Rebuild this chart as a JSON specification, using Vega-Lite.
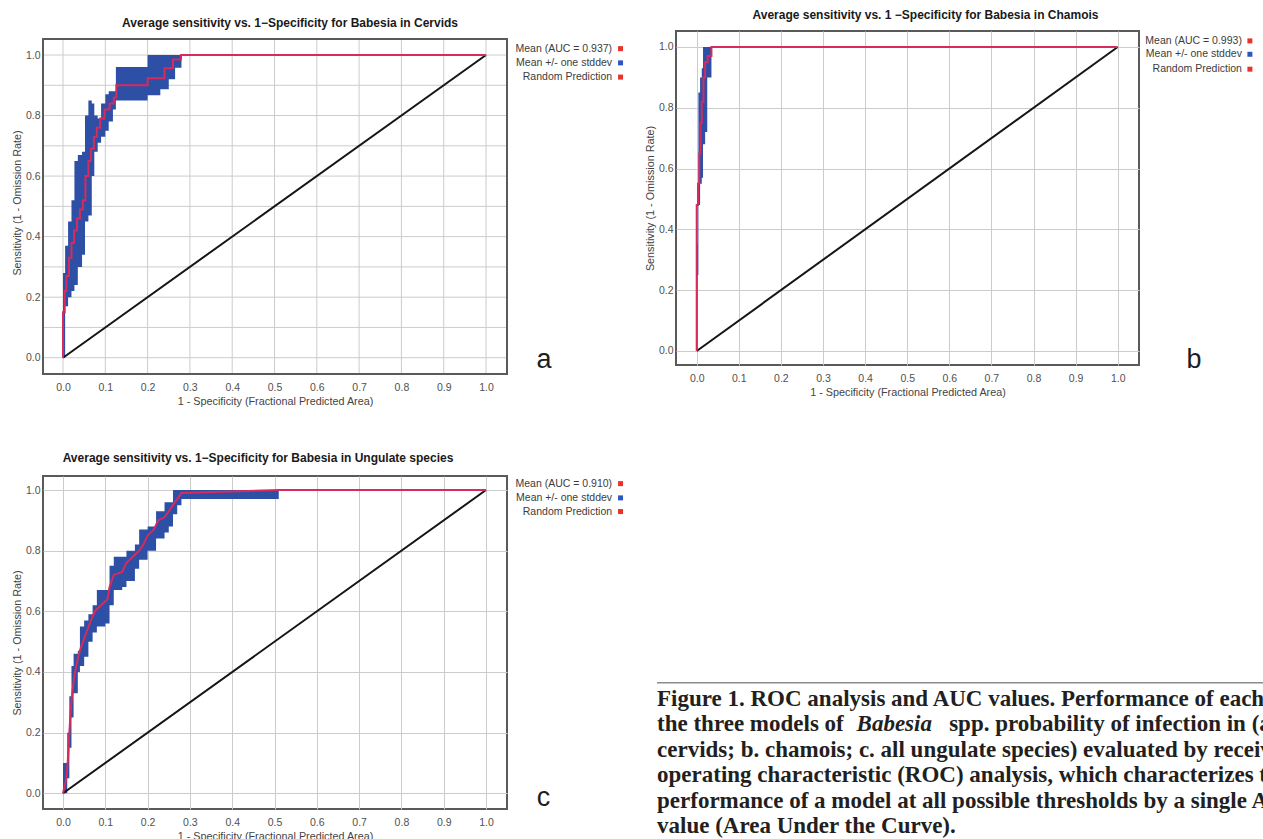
{
  "$schema": "https://vega.github.io/schema/vega-lite/v6.json",
  "background": "white",
  "padding": {"left": 10, "top": 8, "right": 0, "bottom": 0},
  "config": {
    "font": "Liberation Sans",
    "view": {"stroke": "#5a5a5a", "strokeWidth": 2},
    "axis": {
      "grid": true, "gridColor": "#cccccc", "gridWidth": 1,
      "domain": false, "ticks": false,
      "labelFont": "Liberation Sans", "labelFontSize": 10.5, "labelColor": "#505050",
      "labelFlush": false, "labelOverlap": false,
      "titleFont": "Liberation Sans", "titleFontSize": 10.8, "titleFontWeight": "normal", "titleColor": "#444444"
    },
    "axisX": {"labelPadding": 8, "titlePadding": 3},
    "axisY": {"labelPadding": 3, "titlePadding": 2.5},
    "title": {"font": "Liberation Sans", "fontSize": 12, "fontWeight": "bold", "color": "#1a1a1a", "anchor": "middle", "frame": "group", "baseline": "middle"},
    "text": {"font": "Liberation Sans", "fontSize": 10.5, "color": "#3c3c3c", "align": "right", "baseline": "middle"}
  },
  "datasets": {
    "diag": [{"x": 0, "y": 0}, {"x": 1, "y": 1}],
    "grid": [{"v": 0}, {"v": 0.1}, {"v": 0.2}, {"v": 0.3}, {"v": 0.4}, {"v": 0.5}, {"v": 0.6}, {"v": 0.7}, {"v": 0.8}, {"v": 0.9}, {"v": 1}],
    "a_band": [{"x":0,"hi":0.28,"lo":0},{"x":0.005,"hi":0.37,"lo":0.17},{"x":0.012,"hi":0.45,"lo":0.2},{"x":0.02,"hi":0.52,"lo":0.22},{"x":0.027,"hi":0.65,"lo":0.24},{"x":0.035,"hi":0.67,"lo":0.3},{"x":0.045,"hi":0.68,"lo":0.34},{"x":0.052,"hi":0.8,"lo":0.45},{"x":0.06,"hi":0.85,"lo":0.47},{"x":0.068,"hi":0.84,"lo":0.6},{"x":0.074,"hi":0.8,"lo":0.68},{"x":0.082,"hi":0.79,"lo":0.71},{"x":0.09,"hi":0.84,"lo":0.73},{"x":0.1,"hi":0.87,"lo":0.75},{"x":0.108,"hi":0.88,"lo":0.78},{"x":0.118,"hi":0.88,"lo":0.82},{"x":0.125,"hi":0.96,"lo":0.85},{"x":0.2,"hi":1.0,"lo":0.867},{"x":0.23,"hi":1.0,"lo":0.887},{"x":0.25,"hi":1.0,"lo":0.92},{"x":0.265,"hi":1.0,"lo":0.958},{"x":0.28,"hi":1.0,"lo":1.0},{"x":1.0,"hi":1.0,"lo":1.0}],
    "a_mean": [{"x":0,"y":0},{"x":0,"y":0.15},{"x":0.004,"y":0.22},{"x":0.008,"y":0.27},{"x":0.014,"y":0.33},{"x":0.02,"y":0.38},{"x":0.026,"y":0.42},{"x":0.033,"y":0.46},{"x":0.04,"y":0.49},{"x":0.047,"y":0.52},{"x":0.053,"y":0.6},{"x":0.06,"y":0.65},{"x":0.066,"y":0.69},{"x":0.073,"y":0.73},{"x":0.08,"y":0.76},{"x":0.088,"y":0.79},{"x":0.098,"y":0.82},{"x":0.11,"y":0.84},{"x":0.12,"y":0.86},{"x":0.126,"y":0.9},{"x":0.2,"y":0.923},{"x":0.24,"y":0.956},{"x":0.26,"y":0.985},{"x":0.279,"y":1.0},{"x":1.0,"y":1.0}],
    "b_band": [{"x":0,"hi":0.35,"lo":0},{"x":0.002,"hi":0.5,"lo":0.25},{"x":0.004,"hi":0.85,"lo":0.48},{"x":0.008,"hi":0.9,"lo":0.55},{"x":0.012,"hi":0.93,"lo":0.57},{"x":0.015,"hi":1.0,"lo":0.68},{"x":0.02,"hi":1.0,"lo":0.72},{"x":0.025,"hi":1.0,"lo":0.9},{"x":0.035,"hi":1.0,"lo":1.0},{"x":1.0,"hi":1.0,"lo":1.0}],
    "b_mean": [{"x":0,"y":0},{"x":0,"y":0.48},{"x":0.003,"y":0.55},{"x":0.006,"y":0.65},{"x":0.009,"y":0.75},{"x":0.012,"y":0.82},{"x":0.016,"y":0.9},{"x":0.02,"y":0.95},{"x":0.026,"y":0.97},{"x":0.035,"y":1.0},{"x":1.0,"y":1.0}],
    "c_band": [{"x":0,"hi":0.1,"lo":0},{"x":0.01,"hi":0.2,"lo":0.05},{"x":0.015,"hi":0.32,"lo":0.15},{"x":0.02,"hi":0.42,"lo":0.25},{"x":0.025,"hi":0.46,"lo":0.33},{"x":0.035,"hi":0.47,"lo":0.4},{"x":0.04,"hi":0.55,"lo":0.42},{"x":0.05,"hi":0.57,"lo":0.45},{"x":0.06,"hi":0.59,"lo":0.5},{"x":0.07,"hi":0.62,"lo":0.53},{"x":0.08,"hi":0.67,"lo":0.55},{"x":0.1,"hi":0.67,"lo":0.56},{"x":0.11,"hi":0.75,"lo":0.62},{"x":0.12,"hi":0.78,"lo":0.67},{"x":0.14,"hi":0.78,"lo":0.68},{"x":0.15,"hi":0.8,"lo":0.7},{"x":0.17,"hi":0.82,"lo":0.74},{"x":0.18,"hi":0.87,"lo":0.77},{"x":0.2,"hi":0.88,"lo":0.8},{"x":0.22,"hi":0.93,"lo":0.84},{"x":0.24,"hi":0.96,"lo":0.86},{"x":0.25,"hi":0.96,"lo":0.88},{"x":0.26,"hi":1.0,"lo":0.92},{"x":0.27,"hi":1.0,"lo":0.95},{"x":0.28,"hi":1.0,"lo":0.97},{"x":0.51,"hi":1.0,"lo":1.0},{"x":1.0,"hi":1.0,"lo":1.0}],
    "c_mean": [{"x":0,"y":0},{"x":0.008,"y":0.05},{"x":0.012,"y":0.12},{"x":0.015,"y":0.2},{"x":0.018,"y":0.27},{"x":0.022,"y":0.33},{"x":0.026,"y":0.38},{"x":0.03,"y":0.41},{"x":0.036,"y":0.45},{"x":0.042,"y":0.48},{"x":0.05,"y":0.51},{"x":0.058,"y":0.54},{"x":0.066,"y":0.57},{"x":0.075,"y":0.6},{"x":0.09,"y":0.62},{"x":0.105,"y":0.64},{"x":0.11,"y":0.68},{"x":0.12,"y":0.72},{"x":0.14,"y":0.73},{"x":0.15,"y":0.76},{"x":0.165,"y":0.78},{"x":0.18,"y":0.8},{"x":0.19,"y":0.82},{"x":0.2,"y":0.85},{"x":0.215,"y":0.87},{"x":0.225,"y":0.9},{"x":0.24,"y":0.91},{"x":0.25,"y":0.93},{"x":0.26,"y":0.95},{"x":0.27,"y":0.97},{"x":0.28,"y":0.99},{"x":0.51,"y":1.0},{"x":1.0,"y":1.0}],
    "caption": [
      {"line": 1, "text": "Figure 1. ROC analysis and AUC values. Performance of each of"},
      {"line": 3, "text": "cervids; b. chamois; c. all ungulate species) evaluated by receiver"},
      {"line": 4, "text": "operating characteristic (ROC) analysis, which characterizes the"},
      {"line": 5, "text": "performance of a model at all possible thresholds by a single AUC"},
      {"line": 6, "text": "value (Area Under the Curve)."}
    ]
  },
  "bounds": "flush",
  "align": "each",
  "columns": 2,
  "spacing": {"row": 102, "column": 169},
  "concat": [
    {
      "width": 464, "height": 343,
      "view": {"stroke": null},
      "title": {"text": "Average sensitivity vs. 1\u2212Specificity for Babesia in Cervids", "offset": 1, "dx": 15},
      "layer": [
        {"data": {"name": "grid"}, "mark": {"type": "rule", "color": "#cccccc", "strokeWidth": 1},
         "encoding": {
           "x": {"field": "v", "type": "quantitative", "scale": {"domain": [-0.0473, 1.0496], "nice": false, "zero": false},
                 "axis": {"title": "1 - Specificity (Fractional Predicted Area)", "values": [0,0.1,0.2,0.3,0.4,0.5,0.6,0.7,0.8,0.9,1], "format": ".1f", "grid": false}},
           "y": {"datum": -0.0538, "type": "quantitative", "scale": {"domain": [-0.0538, 1.0793], "nice": false, "zero": false},
                 "axis": {"title": "Sensitivity (1 - Omission Rate)", "values": [0,0.1,0.2,0.3,0.4,0.5,0.6,0.7,0.8,0.9,1], "format": ".1f", "grid": false}},
           "y2": {"datum": 1.0529}
         }},
        {"data": {"name": "grid"}, "mark": {"type": "rule", "color": "#cccccc", "strokeWidth": 1},
         "encoding": {
           "y": {"field": "v", "type": "quantitative"},
           "x": {"datum": -0.0473, "type": "quantitative"},
           "x2": {"datum": 1.0496}
         }},
        {"data": {"name": "a_band"}, "mark": {"type": "area", "interpolate": "step-after", "color": "#2d4fa6", "opacity": 1},
         "encoding": {"x": {"field": "x", "type": "quantitative"}, "y": {"field": "hi", "type": "quantitative"}, "y2": {"field": "lo"}}},
        {"data": {"name": "diag"}, "mark": {"type": "line", "color": "#151515", "strokeWidth": 2},
         "encoding": {"x": {"field": "x", "type": "quantitative"}, "y": {"field": "y", "type": "quantitative"}}},
        {"data": {"name": "a_mean"}, "mark": {"type": "line", "interpolate": "step-after", "color": "#d62b5c", "strokeWidth": 2},
         "encoding": {"x": {"field": "x", "type": "quantitative"}, "y": {"field": "y", "type": "quantitative"}}},
        {"data": {"values": [{}]}, "mark": {"type": "rect", "fill": null, "fillOpacity": 0, "stroke": "#5a5a5a", "strokeWidth": 2},
         "encoding": {"x": {"datum": -0.0473, "type": "quantitative"}, "x2": {"datum": 1.0496}, "y": {"datum": -0.0538, "type": "quantitative"}, "y2": {"datum": 1.0529}}},
        {"data": {"values": [{}]}, "mark": {"type": "text", "text": "Mean (AUC = 0.937)"},
         "encoding": {"x": {"datum": 1.298, "type": "quantitative"}, "y": {"datum": 1.021, "type": "quantitative"}}},
        {"data": {"values": [{}]}, "mark": {"type": "text", "text": "Mean +/- one stddev"},
         "encoding": {"x": {"datum": 1.298, "type": "quantitative"}, "y": {"datum": 0.974, "type": "quantitative"}}},
        {"data": {"values": [{}]}, "mark": {"type": "text", "text": "Random Prediction"},
         "encoding": {"x": {"datum": 1.298, "type": "quantitative"}, "y": {"datum": 0.927, "type": "quantitative"}}},
        {"data": {"values": [{}]}, "mark": {"type": "square", "size": 25, "color": "#e8332c", "opacity": 1},
         "encoding": {"x": {"datum": 1.318, "type": "quantitative"}, "y": {"datum": 1.021, "type": "quantitative"}}},
        {"data": {"values": [{}]}, "mark": {"type": "square", "size": 25, "color": "#2e55c0", "opacity": 1},
         "encoding": {"x": {"datum": 1.318, "type": "quantitative"}, "y": {"datum": 0.974, "type": "quantitative"}}},
        {"data": {"values": [{}]}, "mark": {"type": "square", "size": 25, "color": "#e8332c", "opacity": 1},
         "encoding": {"x": {"datum": 1.318, "type": "quantitative"}, "y": {"datum": 0.927, "type": "quantitative"}}},
        {"data": {"values": [{}]}, "mark": {"type": "text", "text": "a", "fontSize": 27, "align": "center", "baseline": "alphabetic", "color": "#1e1e1e"},
         "encoding": {"x": {"datum": 1.137, "type": "quantitative"}, "y": {"datum": -0.034, "type": "quantitative"}}}
      ]
    },
    {
      "width": 463, "height": 334,
      "title": {"text": "Average sensitivity vs. 1 \u2212Specificity for Babesia in Chamois", "offset": 8.7, "dx": 18},
      "layer": [
        {"data": {"name": "b_band"}, "mark": {"type": "area", "interpolate": "step-after", "color": "#2d4fa6", "opacity": 1},
         "encoding": {
           "x": {"field": "x", "type": "quantitative", "scale": {"domain": [-0.0492, 1.0506], "nice": false, "zero": false},
                 "axis": {"title": "1 - Specificity (Fractional Predicted Area)", "values": [0,0.1,0.2,0.3,0.4,0.5,0.6,0.7,0.8,0.9,1], "format": ".1f"}},
           "y": {"field": "hi", "type": "quantitative", "scale": {"domain": [-0.0461, 1.0526], "nice": false, "zero": false},
                 "axis": {"title": "Sensitivity (1 - Omission Rate)", "values": [0,0.1,0.2,0.3,0.4,0.5,0.6,0.7,0.8,0.9,1], "format": ".1f"}},
           "y2": {"field": "lo"}
         }},
        {"data": {"name": "diag"}, "mark": {"type": "line", "color": "#151515", "strokeWidth": 2},
         "encoding": {"x": {"field": "x", "type": "quantitative"}, "y": {"field": "y", "type": "quantitative"}}},
        {"data": {"name": "b_mean"}, "mark": {"type": "line", "interpolate": "step-after", "color": "#d62b5c", "strokeWidth": 2},
         "encoding": {"x": {"field": "x", "type": "quantitative"}, "y": {"field": "y", "type": "quantitative"}}},
        {"data": {"values": [{}]}, "mark": {"type": "text", "text": "Mean (AUC = 0.993)"},
         "encoding": {"x": {"datum": 1.295, "type": "quantitative"}, "y": {"datum": 1.020, "type": "quantitative"}}},
        {"data": {"values": [{}]}, "mark": {"type": "text", "text": "Mean +/- one stddev"},
         "encoding": {"x": {"datum": 1.295, "type": "quantitative"}, "y": {"datum": 0.976, "type": "quantitative"}}},
        {"data": {"values": [{}]}, "mark": {"type": "text", "text": "Random Prediction"},
         "encoding": {"x": {"datum": 1.295, "type": "quantitative"}, "y": {"datum": 0.927, "type": "quantitative"}}},
        {"data": {"values": [{}]}, "mark": {"type": "square", "size": 25, "color": "#e8332c", "opacity": 1},
         "encoding": {"x": {"datum": 1.314, "type": "quantitative"}, "y": {"datum": 1.020, "type": "quantitative"}}},
        {"data": {"values": [{}]}, "mark": {"type": "square", "size": 25, "color": "#2e55c0", "opacity": 1},
         "encoding": {"x": {"datum": 1.314, "type": "quantitative"}, "y": {"datum": 0.976, "type": "quantitative"}}},
        {"data": {"values": [{}]}, "mark": {"type": "square", "size": 25, "color": "#e8332c", "opacity": 1},
         "encoding": {"x": {"datum": 1.314, "type": "quantitative"}, "y": {"datum": 0.927, "type": "quantitative"}}},
        {"data": {"values": [{}]}, "mark": {"type": "text", "text": "b", "fontSize": 27, "align": "center", "baseline": "alphabetic", "color": "#1e1e1e"},
         "encoding": {"x": {"datum": 1.181, "type": "quantitative"}, "y": {"datum": -0.055, "type": "quantitative"}}}
      ]
    },
    {
      "width": 464, "height": 333,
      "title": {"text": "Average sensitivity vs. 1\u2212Specificity for Babesia in Ungulate species", "offset": 11, "dx": -17},
      "layer": [
        {"data": {"name": "c_band"}, "mark": {"type": "area", "interpolate": "step-after", "color": "#2d4fa6", "opacity": 1},
         "encoding": {
           "x": {"field": "x", "type": "quantitative", "scale": {"domain": [-0.0473, 1.0496], "nice": false, "zero": false},
                 "axis": {"title": "1 - Specificity (Fractional Predicted Area)", "values": [0,0.1,0.2,0.3,0.4,0.5,0.6,0.7,0.8,0.9,1], "format": ".1f"}},
           "y": {"field": "hi", "type": "quantitative", "scale": {"domain": [-0.0518, 1.0462], "nice": false, "zero": false},
                 "axis": {"title": "Sensitivity (1 - Omission Rate)", "values": [0,0.1,0.2,0.3,0.4,0.5,0.6,0.7,0.8,0.9,1], "format": ".1f"}},
           "y2": {"field": "lo"}
         }},
        {"data": {"name": "diag"}, "mark": {"type": "line", "color": "#151515", "strokeWidth": 2},
         "encoding": {"x": {"field": "x", "type": "quantitative"}, "y": {"field": "y", "type": "quantitative"}}},
        {"data": {"name": "c_mean"}, "mark": {"type": "line", "color": "#d62b5c", "strokeWidth": 2},
         "encoding": {"x": {"field": "x", "type": "quantitative"}, "y": {"field": "y", "type": "quantitative"}}},
        {"data": {"values": [{}]}, "mark": {"type": "text", "text": "Mean (AUC = 0.910)"},
         "encoding": {"x": {"datum": 1.298, "type": "quantitative"}, "y": {"datum": 1.021, "type": "quantitative"}}},
        {"data": {"values": [{}]}, "mark": {"type": "text", "text": "Mean +/- one stddev"},
         "encoding": {"x": {"datum": 1.298, "type": "quantitative"}, "y": {"datum": 0.974, "type": "quantitative"}}},
        {"data": {"values": [{}]}, "mark": {"type": "text", "text": "Random Prediction"},
         "encoding": {"x": {"datum": 1.298, "type": "quantitative"}, "y": {"datum": 0.929, "type": "quantitative"}}},
        {"data": {"values": [{}]}, "mark": {"type": "square", "size": 25, "color": "#e8332c", "opacity": 1},
         "encoding": {"x": {"datum": 1.318, "type": "quantitative"}, "y": {"datum": 1.021, "type": "quantitative"}}},
        {"data": {"values": [{}]}, "mark": {"type": "square", "size": 25, "color": "#2e55c0", "opacity": 1},
         "encoding": {"x": {"datum": 1.318, "type": "quantitative"}, "y": {"datum": 0.974, "type": "quantitative"}}},
        {"data": {"values": [{}]}, "mark": {"type": "square", "size": 25, "color": "#e8332c", "opacity": 1},
         "encoding": {"x": {"datum": 1.318, "type": "quantitative"}, "y": {"datum": 0.929, "type": "quantitative"}}},
        {"data": {"values": [{}]}, "mark": {"type": "text", "text": "c", "fontSize": 27, "align": "center", "baseline": "alphabetic", "color": "#1e1e1e"},
         "encoding": {"x": {"datum": 1.136, "type": "quantitative"}, "y": {"datum": -0.042, "type": "quantitative"}}}
      ]
    },
    {
      "width": 463, "height": 360,
      "view": {"stroke": null},
      "layer": [
        {"data": {"values": [{}]}, "mark": {"type": "rule", "color": "#8c8c8c", "strokeWidth": 1.6},
         "encoding": {
           "x": {"datum": -0.041, "type": "quantitative", "scale": {"domain": [0, 1], "nice": false, "zero": false}, "axis": null},
           "x2": {"datum": 1.3},
           "y": {"datum": 0.083, "type": "quantitative", "scale": {"domain": [-8.055, 6.118], "reverse": true, "nice": false, "zero": false}, "axis": null}
         }},
        {"data": {"name": "caption"}, "mark": {"type": "text", "align": "left", "baseline": "alphabetic", "font": "Liberation Serif", "fontSize": 23, "fontWeight": "bold", "color": "#231f20"},
         "encoding": {"x": {"datum": -0.041, "type": "quantitative"}, "y": {"field": "line", "type": "quantitative"}, "text": {"field": "text"}}},
        {"data": {"values": [{}]}, "mark": {"type": "text", "text": "the three models of", "align": "left", "baseline": "alphabetic", "font": "Liberation Serif", "fontSize": 23, "fontWeight": "bold", "color": "#231f20"},
         "encoding": {"x": {"datum": -0.041, "type": "quantitative"}, "y": {"datum": 2, "type": "quantitative"}}},
        {"data": {"values": [{}]}, "mark": {"type": "text", "text": "Babesia", "align": "left", "baseline": "alphabetic", "font": "Liberation Serif", "fontSize": 23, "fontWeight": "bold", "fontStyle": "italic", "color": "#231f20"},
         "encoding": {"x": {"datum": 0.39, "type": "quantitative"}, "y": {"datum": 2, "type": "quantitative"}}},
        {"data": {"values": [{}]}, "mark": {"type": "text", "text": "spp. probability of infection in (a.", "align": "left", "baseline": "alphabetic", "font": "Liberation Serif", "fontSize": 23, "fontWeight": "bold", "color": "#231f20"},
         "encoding": {"x": {"datum": 0.59, "type": "quantitative"}, "y": {"datum": 2, "type": "quantitative"}}}
      ]
    }
  ]
}
